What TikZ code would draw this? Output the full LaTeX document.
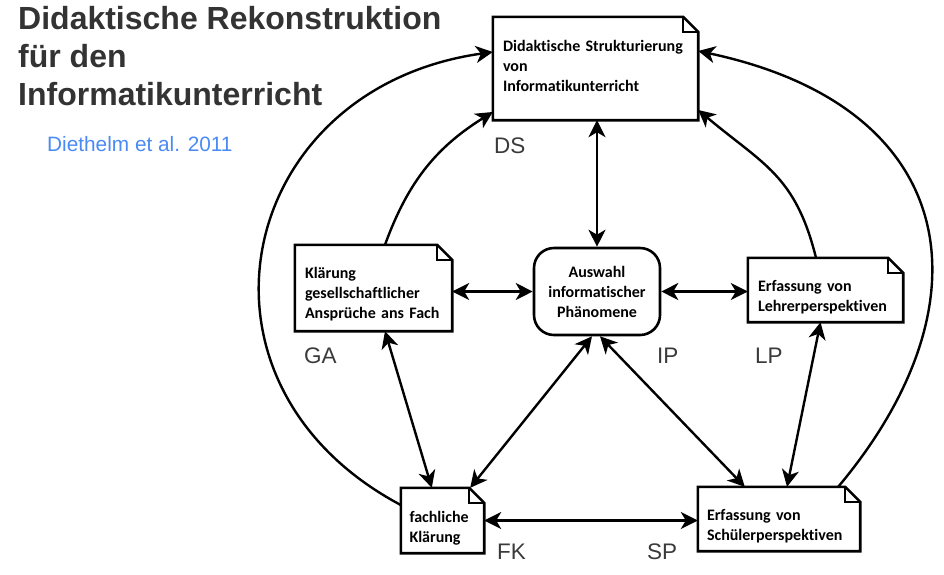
\documentclass[tikz,border=0pt]{standalone}
\usepackage{fontspec}
\setmainfont{Carlito}[Ligatures=NoCommon]
\newfontfamily\arialf{Liberation Sans}
\usetikzlibrary{arrows.meta,calc}
\definecolor{titlegray}{HTML}{333333}
\definecolor{labgray}{HTML}{3A3A3A}
\definecolor{citeblue}{HTML}{4A8AF4}
\tikzset{
  boxline/.style={line width=2.6pt, black, line join=miter},
  notebox/.style={inner xsep=10pt, inner ysep=0pt, align=left, font=\fontsize{16}{20}\selectfont\bfseries},
  phenbox/.style={draw, line width=2.6pt, rounded corners=20pt, align=center, inner sep=0pt, font=\fontsize{16}{20}\selectfont\bfseries},
  conn/.style={line width=2.4pt, -{Stealth[length=17pt,width=17pt,inset=5pt]}},
  biconn/.style={line width=2.4pt, {Stealth[length=17pt,width=17pt,inset=5pt]}-{Stealth[length=17pt,width=17pt,inset=5pt]}},
  tag/.style={font=\arialf\fontsize{22.5}{22.5}\selectfont, text=labgray, anchor=base west, inner sep=0pt},
}
\newcommand\shifted[2]{\raisebox{#1}[\height][\depth]{\begin{tabular}{@{}l@{}}#2\end{tabular}}}
\newcommand\drawnote[1]{%
  \draw[boxline] (#1.north west) -- ([xshift=-15pt]#1.north east) -- ([yshift=-15pt]#1.north east) -- (#1.south east) -- (#1.south west) -- cycle;
  \draw[line width=1.6pt] ([xshift=-15pt]#1.north east) |- ([yshift=-15pt]#1.north east);}
\begin{document}
\begin{tikzpicture}[x=1pt,y=1pt]
\useasboundingbox (0,0) rectangle (944,-574);
% title
\node[anchor=north west, inner sep=0pt, align=left, text=titlegray, font=\arialf\bfseries\fontsize{32}{38}\selectfont] (title) at (18,-6) {Didaktische Rekonstruktion\\für den\\Informatikunterricht};
\node[anchor=base west, inner sep=0pt, text=citeblue, font=\arialf\fontsize{20.8}{20.8}\selectfont] (cite) at (47,-151) {Diethelm et al. 2011};
% boxes
\node[notebox, text width=185pt, minimum height=103pt] (DS) at (595.5,-68.5) {\shifted{1.5pt}{Didaktische Strukturierung\\von\\Informatikunterricht}};
\node[notebox, text width=137pt, minimum height=86pt] (GA) at (373.5,-288) {\shifted{-6.5pt}{Klärung\\gesellschaftlicher\\Ansprüche ans Fach}};
\node[phenbox, minimum width=126pt, minimum height=87pt] (IP) at (597,-291.5) {Auswahl\\informatischer\\Phänomene};
\node[notebox, text width=135pt, minimum height=64pt] (LP) at (825.5,-290) {\shifted{-7pt}{Erfassung von\\Lehrerperspektiven}};
\node[notebox, text width=66pt, inner xsep=8.5pt, minimum height=65pt] (FK) at (442.5,-520.5) {\shifted{-8pt}{fachliche\\Klärung}};
\node[notebox, text width=144pt, inner xsep=9pt, minimum height=64pt] (SP) at (779,-519) {\shifted{-7pt}{Erfassung von\\Schülerperspektiven}};
\drawnote{DS}
\drawnote{GA}
\drawnote{LP}
\drawnote{FK}
\drawnote{SP}
% tags
\node[tag] (tDS) at (494,-153) {DS};
\node[tag] (tGA) at (304,-363) {GA};
\node[tag] (tIP) at (657,-363) {IP};
\node[tag] (tLP) at (755,-363) {LP};
\node[tag] (tFK) at (497,-559) {FK};
\node[tag] (tSP) at (647,-559) {SP};
% straight connectors
\draw[biconn] ([xshift=1.5pt]DS.south) -- (IP.north);
\draw[biconn] (GA.east |- IP.west) -- (IP.west);
\draw[biconn] (IP.east) -- (IP.east -| LP.west);
\draw[biconn] (FK.east) -- (FK.east -| SP.west);
\draw[biconn] ([xshift=-5pt]IP.south) -- ([xshift=-14pt]FK.north east);
\draw[biconn] ([xshift=3pt]IP.south) -- ([xshift=47pt]SP.north west);
\draw[biconn] ([xshift=11.5pt]GA.south) -- ([xshift=31pt]FK.north west);
\draw[biconn] ([xshift=-5pt]LP.south) -- ([xshift=8pt]SP.north);
% curved connectors
\draw[conn] ([xshift=11.5pt]GA.north) to[out=70,in=212] ([yshift=-43.5pt]DS.west);
\draw[conn] ([xshift=-9.5pt]LP.north) to[out=104,in=-40,looseness=1.15] ([yshift=-41.5pt]DS.east);
\draw[conn] ([yshift=15.5pt]FK.west) .. controls +(152:260) and +(188:260) .. ([yshift=16.5pt]DS.west);
\draw[conn] ([xshift=-22pt]SP.north east) .. controls +(50:240) and +(-12:270) .. ([yshift=17.5pt]DS.east);
\end{tikzpicture}
\end{document}
